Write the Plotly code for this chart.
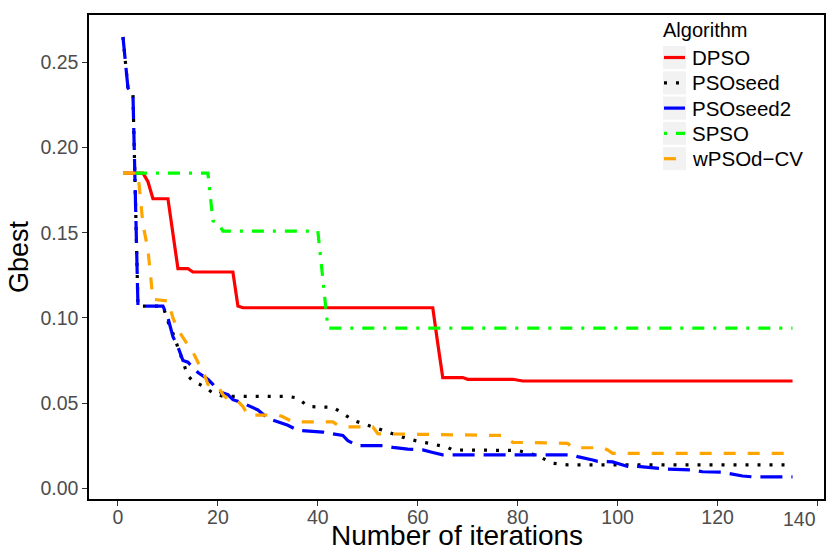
import plotly.graph_objects as go

# Convergence of the global best (Gbest) per iteration, one series per algorithm.
# Each series is listed at the iterations where its value changes.
dpso_iter = [1, 5, 6, 7, 10, 12, 14, 15, 23, 24, 25, 63, 64, 65, 69, 70, 79, 81, 135]
dpso_gbest = [0.185, 0.185, 0.180, 0.170, 0.170, 0.129, 0.129, 0.127, 0.127, 0.107, 0.106,
              0.106, 0.085, 0.065, 0.065, 0.064, 0.064, 0.063, 0.063]

psoseed_iter = [1, 2, 3, 4, 9, 10, 11, 12, 13, 14, 15, 17, 19, 21, 34, 36, 38, 43, 45, 47,
                49, 52, 56, 58, 61, 63, 66, 67, 80, 83, 85, 87, 90, 135]
psoseed_gbest = [0.265, 0.235, 0.231, 0.107, 0.107, 0.098, 0.091, 0.083, 0.074, 0.066, 0.063,
                 0.060, 0.056, 0.054, 0.054, 0.053, 0.048, 0.0475, 0.044, 0.040, 0.038, 0.035,
                 0.031, 0.029, 0.027, 0.026, 0.024, 0.0225, 0.0222, 0.020, 0.0176, 0.0147,
                 0.0137, 0.0137]

psoseed2_iter = [1, 2, 3, 4, 9, 10, 11, 12, 13, 14, 16, 18, 19, 20, 22, 23, 25, 28, 30, 34,
                 36, 41, 43, 45, 46, 48, 53, 55, 58, 61, 63, 65, 91, 92, 95, 96, 99, 100, 102,
                 104, 108, 110, 115, 117, 121, 123, 125, 127, 135]
psoseed2_gbest = [0.265, 0.235, 0.231, 0.107, 0.107, 0.100, 0.089, 0.083, 0.075, 0.074, 0.068,
                  0.064, 0.061, 0.057, 0.055, 0.052, 0.050, 0.046, 0.041, 0.037, 0.034, 0.033,
                  0.032, 0.031, 0.028, 0.025, 0.025, 0.024, 0.023, 0.0225, 0.021, 0.0196,
                  0.0196, 0.0186, 0.0166, 0.0158, 0.0155, 0.0147, 0.0128, 0.0128, 0.0117,
                  0.0113, 0.0107, 0.0097, 0.0094, 0.0082, 0.0072, 0.0067, 0.0067]

spso_iter = [1, 18, 19, 20, 21, 40, 41, 42, 135]
spso_gbest = [0.185, 0.185, 0.157, 0.156, 0.151, 0.151, 0.123, 0.094, 0.094]

wpsod_iter = [1, 4, 5, 6, 7, 10, 11, 12, 14, 15, 16, 17, 18, 20, 21, 22, 24, 25, 26, 32, 33,
              35, 43, 44, 45, 51, 52, 77, 78, 79, 90, 91, 97, 98, 99, 135]
wpsod_gbest = [0.185, 0.185, 0.155, 0.140, 0.111, 0.110, 0.100, 0.093, 0.084, 0.080, 0.074,
               0.069, 0.061, 0.060, 0.055, 0.052, 0.051, 0.048, 0.043, 0.043, 0.042, 0.039,
               0.039, 0.037, 0.036, 0.036, 0.032, 0.031, 0.029, 0.027, 0.0264, 0.0238, 0.0238,
               0.0225, 0.0205, 0.0205]

x_ticks = [0, 20, 40, 60, 80, 100, 120, 140]
y_ticks = [0.00, 0.05, 0.10, 0.15, 0.20, 0.25]

series = [
    ("DPSO", dpso_iter, dpso_gbest, "#FF0000", "solid"),
    ("PSOseed", psoseed_iter, psoseed_gbest, "#000000", "3px,9px"),
    ("PSOseed2", psoseed2_iter, psoseed2_gbest, "#0000FF", "22px,9px"),
    ("SPSO", spso_iter, spso_gbest, "#00FF00", "3px,9px,12px,9px"),
    ("wPSOd\u2212CV", wpsod_iter, wpsod_gbest, "#FFA500", "12px,12px"),
]

W, H = 826, 552
M_L, M_R, M_T, M_B = 89, 2, 15, 53
PW, PH = W - M_L - M_R, H - M_T - M_B


def px_x(px):
    return (px - M_L) / PW


def px_y(py):
    return (H - M_B - py) / PH


FONT = "Liberation Sans, Arial, Helvetica, sans-serif"
TICK_FONT = dict(family=FONT, size=19.5, color="#4D4D4D")

fig = go.Figure()
for name, xs, ys, color, dash in series:
    fig.add_trace(go.Scatter(
        x=xs, y=ys, mode="lines", name=name, showlegend=False,
        line=dict(color=color, width=3.2, dash=dash),
    ))

# the last x label is right-aligned to its tick so it stays inside the page
x_ticktext = [str(v) for v in x_ticks[:-1]] + [""]

shapes = []
annotations = [
    dict(
        text=str(x_ticks[-1]), xref="x", yref="paper", x=x_ticks[-1], y=px_y(519),
        xanchor="right", yanchor="middle", showarrow=False, font=TICK_FONT,
    ),
    dict(
        text="Number of iterations", xref="paper", yref="paper", x=0.5, y=px_y(535.5),
        xanchor="center", yanchor="middle", showarrow=False,
        font=dict(family=FONT, size=28, color="black"),
    ),
    dict(
        text="Algorithm", xref="paper", yref="paper", x=px_x(661), y=px_y(30),
        xanchor="left", yanchor="middle", showarrow=False,
        font=dict(family=FONT, size=20, color="black"),
    ),
]

# Legend: grey key boxes with line samples, labels to the right
key_left, key_right, key_h, row0, row_step = 663, 686, 24, 57.5, 25.3
for i, (name, _, _, color, dash) in enumerate(series):
    cy = row0 + i * row_step
    shapes.append(dict(
        type="rect", xref="paper", yref="paper",
        x0=px_x(key_left), x1=px_x(key_right),
        y0=px_y(cy + key_h / 2 - 0.5), y1=px_y(cy - key_h / 2 + 0.5),
        fillcolor="#F2F2F2", line=dict(width=0), layer="above",
    ))
    shapes.append(dict(
        type="line", xref="paper", yref="paper",
        x0=px_x(key_left + 1), x1=px_x(key_right - 1), y0=px_y(cy), y1=px_y(cy),
        line=dict(color=color, width=3.2, dash=dash), layer="above",
    ))
    annotations.append(dict(
        text=name, xref="paper", yref="paper", x=px_x(690), y=px_y(cy),
        xanchor="left", yanchor="middle", showarrow=False,
        font=dict(family=FONT, size=20.5, color="black"),
    ))

axis_common = dict(
    showline=True, linecolor="black", linewidth=1.5, mirror=True,
    showgrid=False, zeroline=False, automargin=False,
    ticks="outside", ticklen=5, tickwidth=1.2, tickcolor="#333333",
    tickfont=TICK_FONT,
)

fig.update_xaxes(
    range=[-5.8, 141.3], tickvals=x_ticks, ticktext=x_ticktext,
    ticklabelstandoff=-5,
    **axis_common,
)
fig.update_yaxes(
    range=[-0.0063, 0.2779], tickvals=y_ticks, tickformat=".2f",
    title=dict(text="Gbest", font=dict(family=FONT, size=27, color="black"), standoff=4),
    **axis_common,
)

fig.update_layout(
    width=W, height=H,
    margin=dict(l=M_L, r=M_R, t=M_T, b=M_B),
    paper_bgcolor="white", plot_bgcolor="white",
    font=dict(family=FONT, color="black"),
    showlegend=False,
    shapes=shapes,
    annotations=annotations,
)

fig.write_html("out.html")
